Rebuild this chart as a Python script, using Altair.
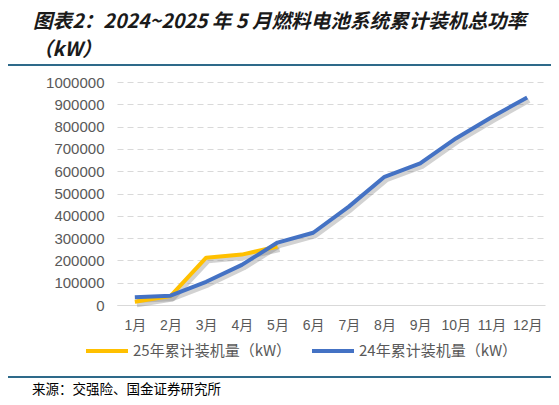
"""Cumulative installed fuel-cell system power, 2024 vs 2025."""

import altair as alt
import pandas as pd

months = ["1月", "2月", "3月", "4月", "5月", "6月", "7月", "8月", "9月", "10月", "11月", "12月"]
values_2024 = [35000, 42000, 104000, 180000, 280000, 324000, 441000, 575000, 635000, 747000, 842000, 931000]
values_2025 = [15000, 40000, 212000, 226000, 262000]
series_names = ["25年累计装机量（kW）", "24年累计装机量（kW）"]
series_colors = ["#FFC000", "#4472C4"]

title_line1 = "图表2：2024~2025 年 5 月燃料电池系统累计装机总功率"
title_line2 = "（kW）"
source_text = "来源：交强险、国金证券研究所"

label_font = "Liberation Sans, Noto Sans CJK SC"
cjk_font = "Noto Sans CJK SC"

rows = [{"month": m, "value": v, "series": series_names[1]} for m, v in zip(months, values_2024)]
rows += [{"month": m, "value": v, "series": series_names[0]} for m, v in zip(months, values_2025)]
data = pd.DataFrame(rows)

x_enc = alt.X(
    "month",
    type="ordinal",
    sort=months,
    scale=alt.Scale(type="point", padding=0.5),
    axis=alt.Axis(
        title=None,
        labelAngle=0,
        labelFont=label_font,
        labelFontSize=14,
        labelColor="#595959",
        labelPadding=13,
        ticks=False,
        domain=True,
        domainColor="#D9D9D9",
        domainWidth=1,
        grid=False,
    ),
)
y_enc = alt.Y(
    "value",
    type="quantitative",
    scale=alt.Scale(domain=[0, 1000000]),
    axis=alt.Axis(
        title=None,
        values=list(range(0, 1000001, 100000)),
        format="d",
        labelFont="Liberation Sans",
        labelFontSize=15,
        labelColor="#595959",
        labelPadding=13,
        ticks=False,
        domain=False,
        grid=True,
        gridColor="#D9D9D9",
        gridDash=[6, 4],
        gridWidth=1,
    ),
)
color_enc = alt.Color(
    "series",
    type="nominal",
    scale=alt.Scale(domain=series_names, range=series_colors),
    legend=alt.Legend(
        title=None,
        orient="none",
        direction="horizontal",
        legendX=-33,
        legendY=246,
        symbolType="stroke",
        symbolSize=1764,
        symbolStrokeWidth=4,
        labelFont=cjk_font,
        labelFontSize=15,
        labelColor="#595959",
        labelOffset=3,
        labelLimit=300,
        columnPadding=12,
        padding=0,
    ),
)

base = alt.Chart(data)

# soft drop shadow under the lines
shadow = base.mark_line(
    color="#7F7F7F", opacity=0.35, strokeWidth=5, strokeJoin="round", xOffset=2, yOffset=3
).encode(x=x_enc, y=y_enc, detail="series")

line_2025 = (
    base.transform_filter(alt.datum.series == series_names[0])
    .mark_line(strokeWidth=4, strokeJoin="round")
    .encode(x=x_enc, y=y_enc, color=color_enc)
)
line_2024 = (
    base.transform_filter(alt.datum.series == series_names[1])
    .mark_line(strokeWidth=4, strokeJoin="round")
    .encode(x=x_enc, y=y_enc, color=color_enc)
)

one_row = alt.Data(values=[{}])
title_style = {
    "align": "left",
    "baseline": "middle",
    "font": cjk_font,
    "fontSize": 19.6,
    "fontWeight": "bold",
    "fontStyle": "italic",
    "color": "#1A1A1A",
}

title_1 = (
    alt.Chart(one_row)
    .mark_text(**title_style)
    .encode(x=alt.value(-84), y=alt.value(-60), text=alt.value(title_line1))
)
title_2 = (
    alt.Chart(one_row)
    .mark_text(**title_style)
    .encode(x=alt.value(-84), y=alt.value(-32), text=alt.value(title_line2))
)
top_rule = (
    alt.Chart(one_row)
    .mark_rule(color="#2E6A8A", strokeWidth=2)
    .encode(x=alt.value(-112), x2=alt.value(434), y=alt.value(-17))
)
bottom_rule = (
    alt.Chart(one_row)
    .mark_rule(color="#2E6A8A", strokeWidth=2)
    .encode(x=alt.value(-112), x2=alt.value(434), y=alt.value(295))
)
source = (
    alt.Chart(one_row)
    .mark_text(align="left", baseline="middle", font=cjk_font, fontSize=13.5, color="#000000")
    .encode(x=alt.value(-85), y=alt.value(308), text=alt.value(source_text))
)

chart = (
    alt.layer(shadow, line_2025, line_2024, title_1, title_2, top_rule, bottom_rule, source)
    .properties(
        width=428,
        height=223,
        padding={"left": 109, "top": 74, "right": 6, "bottom": 92},
        autosize=alt.AutoSizeParams(type="none"),
        background="#FFFFFF",
    )
    .configure_view(strokeWidth=0)
)

chart.save("out.html", embed_options={"renderer": "svg", "actions": False})
